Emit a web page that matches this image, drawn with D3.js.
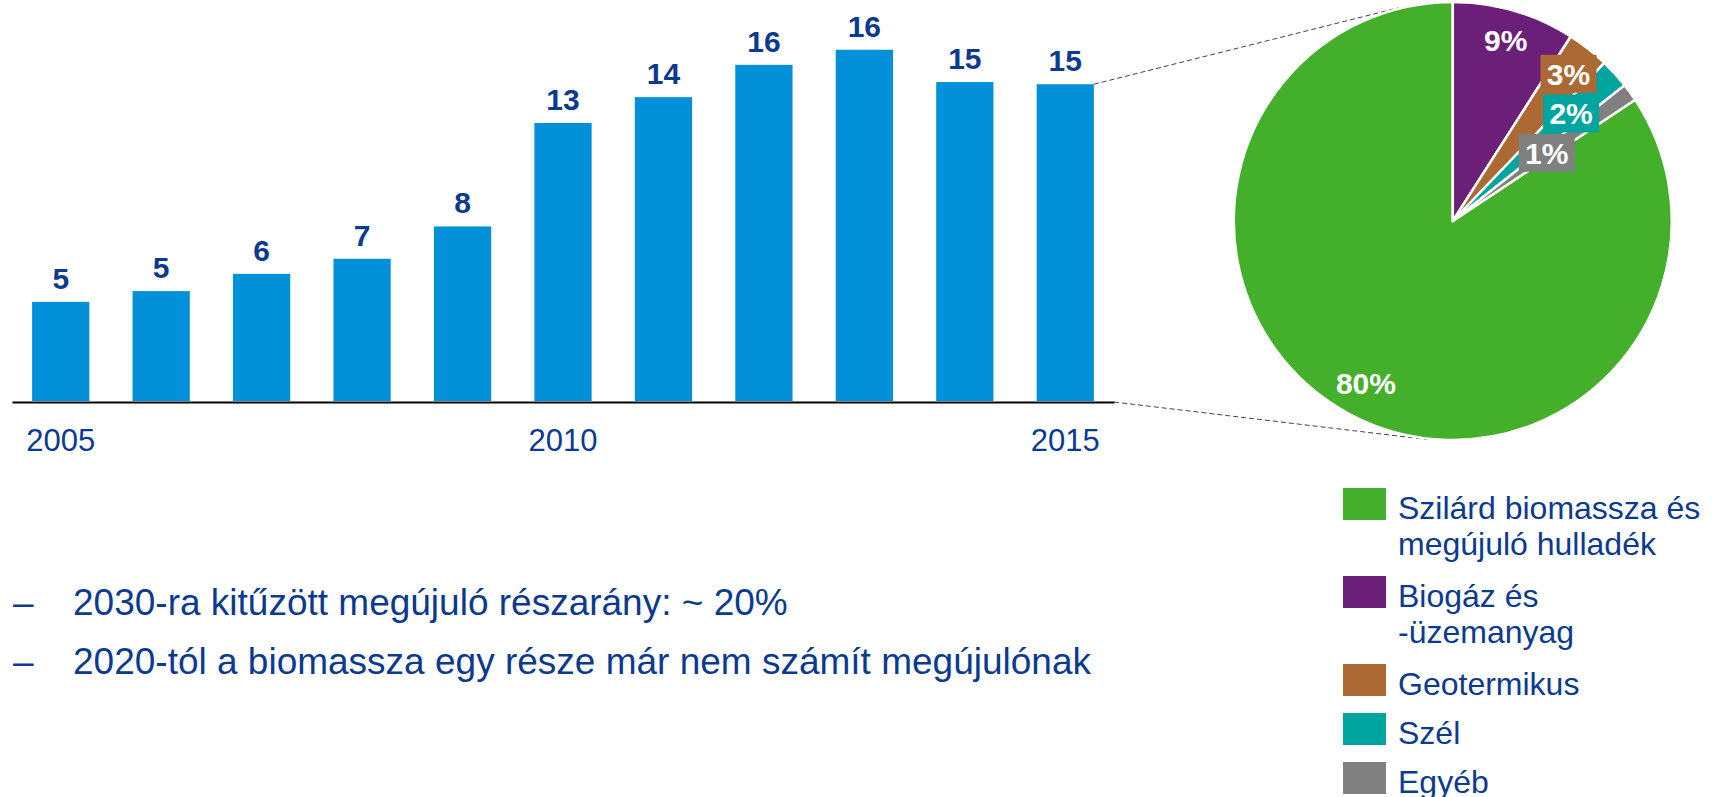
<!DOCTYPE html>
<html>
<head>
<meta charset="utf-8">
<script src="https://cdn.jsdelivr.net/npm/d3@7"></script>
<style>
  body { margin: 0; background: #fff; }
  svg { display: block; font-family: "Liberation Sans", Arial, sans-serif; }
</style>
</head>
<body>
<div id="chart"></div>
<script>
// Data
const years = [2005, 2006, 2007, 2008, 2009, 2010, 2011, 2012, 2013, 2014, 2015];
const shareValues = [4.6, 5.1, 5.9, 6.6, 8.1, 12.9, 14.1, 15.6, 16.3, 14.8, 14.7];
const yearTicks = [2005, 2010, 2015];

const sources = ["Szilárd biomassza és|megújuló hulladék", "Biogáz és|-üzemanyag", "Geotermikus", "Szél", "Egyéb"];
const sourceShares = [84.3, 9.05, 3.1, 2.2, 1.3];
const sourceLabels = ["80%", "9%", "3%", "2%", "1%"];

const notes = [
    "2030-ra kitűzött megújuló részarány: ~ 20%",
    "2020-tól a biomassza egy része már nem számít megújulónak"
];

// Styling
const width = 1712;
const height = 797;
const navy = "#0b3a8f";
const barColor = "#0290d8";
const sourceColors = ["#44af2b", "#6c1f78", "#ad6933", "#00a59f", "#808080"];
const labelRadius = [0.84, 0.86, 0.855, 0.73, 0.53]; // fraction of pie radius
const labelBoxed = [false, false, true, true, true];

const svg = d3.select("#chart")
    .append("svg")
    .attr("width", width)
    .attr("height", height);

// ---- bar chart ----
const baseY = 401;
const x = d3.scaleBand()
    .domain(years)
    .range([12, 1114])
    .paddingInner(0.43)
    .paddingOuter(0.2);

const y = d3.scaleLinear()
    .domain([0, 18])
    .range([baseY, baseY - 18 * 21.55]);

svg.append("g")
    .selectAll("rect")
    .data(years)
    .join("rect")
    .attr("x", d => x(d))
    .attr("y", (d, i) => y(shareValues[i]))
    .attr("width", x.bandwidth())
    .attr("height", (d, i) => y(0) - y(shareValues[i]))
    .attr("fill", barColor);

svg.append("g")
    .selectAll("text")
    .data(years)
    .join("text")
    .attr("x", d => x(d) + x.bandwidth() / 2)
    .attr("y", (d, i) => y(shareValues[i]) - 13)
    .attr("text-anchor", "middle")
    .attr("font-size", 30)
    .attr("font-weight", "bold")
    .attr("fill", navy)
    .text((d, i) => d3.format(".0f")(shareValues[i]));

const xAxis = d3.axisBottom(x)
    .tickValues(yearTicks)
    .tickSize(0)
    .tickSizeOuter(0)
    .tickPadding(27);

const axisG = svg.append("g")
    .attr("transform", `translate(0, ${baseY + 1})`)
    .call(xAxis);
axisG.select(".domain")
    .attr("stroke", "#000")
    .attr("stroke-width", 2.2);
axisG.selectAll("text")
    .attr("font-size", 31)
    .attr("font-family", "Liberation Sans, Arial, sans-serif")
    .attr("fill", navy);

// ---- pie ----
const cx = 1452.8, cy = 221, r = 219;
const total = d3.sum(sourceShares);
const a0 = 2 * Math.PI * (1 - sourceShares[0] / total);

const pie = d3.pie()
    .sort(null)
    .startAngle(a0)
    .endAngle(a0 + 2 * Math.PI);
const arcs = pie(sourceShares);
const arc = d3.arc().innerRadius(0).outerRadius(r);

const polar = (a, rad) => [cx + rad * Math.sin(a), cy - rad * Math.cos(a)];

// dashed lines linking the 2015 bar to the pie
const lastYear = years[years.length - 1];
const dashes = [
    [[x(lastYear) + x.bandwidth(), y(shareValues[shareValues.length - 1])], polar(-14.3 * Math.PI / 180, r + 1)],
    [[x.range()[1], baseY + 1], polar(Math.PI + 6.8 * Math.PI / 180, r + 1)]
];
svg.append("g")
    .selectAll("line")
    .data(dashes)
    .join("line")
    .attr("x1", d => d[0][0])
    .attr("y1", d => d[0][1])
    .attr("x2", d => d[1][0])
    .attr("y2", d => d[1][1])
    .attr("stroke", "#444")
    .attr("stroke-width", 1)
    .attr("stroke-dasharray", "5,3");

const pieG = svg.append("g")
    .attr("transform", `translate(${cx}, ${cy})`);

pieG.selectAll("path")
    .data(arcs)
    .join("path")
    .attr("d", arc)
    .attr("fill", (d, i) => sourceColors[i])
    .attr("stroke", "#fff")
    .attr("stroke-width", 2.5)
    .attr("stroke-linejoin", "round");

// slice labels
const labelG = svg.append("g");
arcs.forEach((d, i) => {
    const mid = (d.startAngle + d.endAngle) / 2;
    const [lx, ly] = polar(mid, r * labelRadius[i]);
    if (labelBoxed[i]) {
        labelG.append("rect")
            .attr("x", lx - 28)
            .attr("y", ly - 19)
            .attr("width", 56)
            .attr("height", 38)
            .attr("fill", sourceColors[i]);
    }
    labelG.append("text")
        .attr("x", lx)
        .attr("y", ly + 11)
        .attr("text-anchor", "middle")
        .attr("font-size", 30)
        .attr("font-weight", "bold")
        .attr("fill", "#fff")
        .text(sourceLabels[i]);
});

// ---- legend ----
const legend = svg.append("g");
let ly = 488;
sources.forEach((s, i) => {
    const lines = s.split("|");
    legend.append("rect")
        .attr("x", 1343)
        .attr("y", ly)
        .attr("width", 43)
        .attr("height", 32)
        .attr("fill", sourceColors[i]);
    const t = legend.append("text")
        .attr("x", 1398)
        .attr("y", ly + 31)
        .attr("font-size", 32)
        .attr("fill", navy);
    lines.forEach((l, j) => {
        t.append("tspan")
            .attr("x", 1398)
            .attr("dy", j === 0 ? 0 : 36)
            .text(l);
    });
    ly += 49 + (lines.length - 1) * 39;
});

// ---- notes ----
const noteG = svg.append("g");
notes.forEach((n, i) => {
    const by = 615 + i * 59;
    noteG.append("text")
        .attr("x", 13)
        .attr("y", by)
        .attr("font-size", 37)
        .attr("fill", navy)
        .text("–");
    noteG.append("text")
        .attr("x", 73)
        .attr("y", by)
        .attr("font-size", 37)
        .attr("fill", navy)
        .text(n);
});
</script>
</body>
</html>
